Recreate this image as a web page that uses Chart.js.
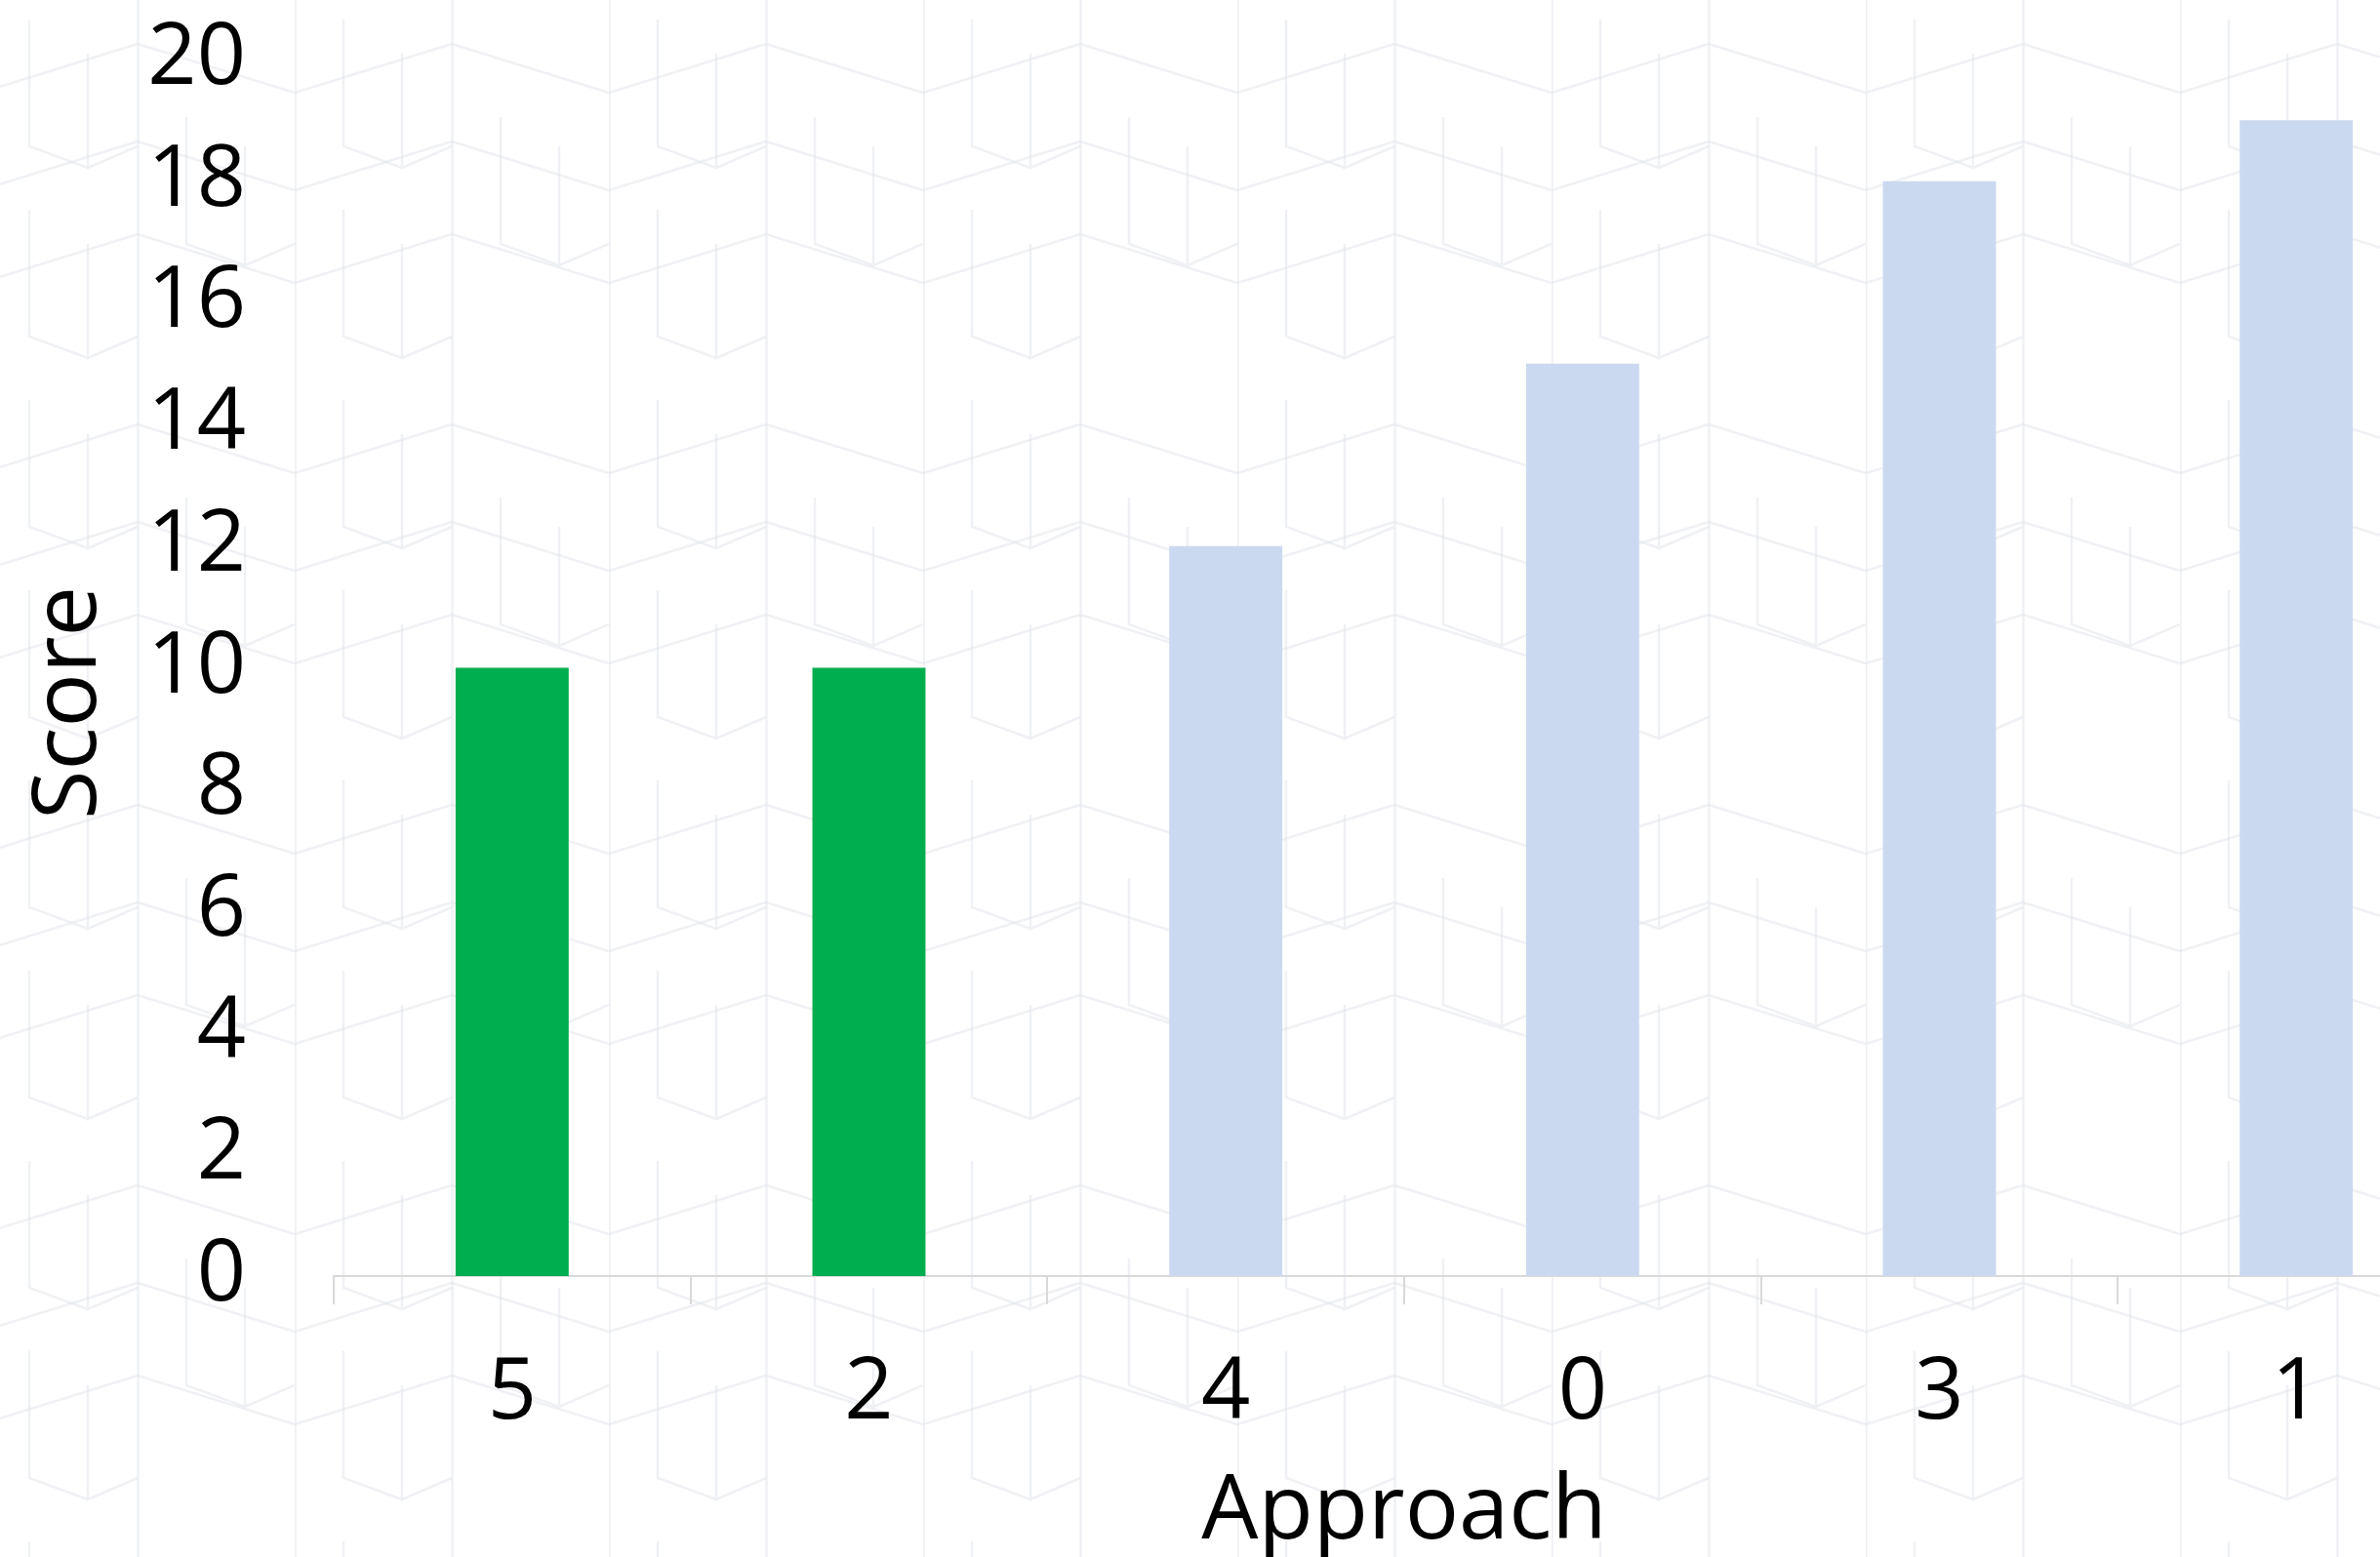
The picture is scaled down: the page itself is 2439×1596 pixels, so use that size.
<!DOCTYPE html>
<html>
<head>
<meta charset="utf-8">
<title>Score by approach</title>
<script src="https://cdn.jsdelivr.net/npm/chart.js@4/dist/chart.umd.min.js"></script>
<style>
  html, body {
    margin: 0;
    padding: 0;
    overflow: hidden;
    background-color: #ffffff;
  }
  body {
    width: 2439px;
    height: 1596px;
    background-image: url("data:image/svg+xml;utf8,<svg xmlns='http://www.w3.org/2000/svg' width='322' height='390'><g fill='none' stroke='%23dfe3ea' stroke-width='2.5' stroke-opacity='0.5'><path d='M0.5 0V390M161.5 0V390'/><path d='M0 95L161 45M0 95L-10 92M161 45L322 95'/><path d='M0 290L161 240L322 290'/><path d='M50 20V150L110 172M110 55V172L161 150'/><path d='M211 120V250L271 272M271 150V272L322 250'/><path d='M50 215V345L110 367M110 250V367L161 345'/><path d='M161 145L322 195M0 195L161 145'/></g></svg>");
    background-repeat: repeat;
    background-position: -20px 0;
  }
  #wrap {
    position: absolute;
    left: 0;
    top: 0;
    width: 2560px;
    height: 1596px;
  }
</style>
</head>
<body>
<div id="wrap"><canvas id="chart"></canvas></div>
<script>
// Data
const approaches = ['5', '2', '4', '0', '3', '1'];
const scores = [10, 10, 12, 15, 18, 19];
const highlighted = [true, true, false, false, false, false];

const greenBar = '#00ae4f';
const blueBar = '#cbd9f0';
const axisGrey = '#d9d9d9';
const fontFamily = '"Open Sans", "Noto Sans", sans-serif';

const barColors = highlighted.map(h => (h ? greenBar : blueBar));

const ctx = document.getElementById('chart').getContext('2d');
new Chart(ctx, {
    type: 'bar',
    data: {
        labels: approaches,
        datasets: [{
            label: 'Score',
            data: scores,
            backgroundColor: barColors,
            borderWidth: 0,
            categoryPercentage: 1,
            barPercentage: 0.317
        }]
    },
    options: {
        responsive: true,
        maintainAspectRatio: false,
        animation: false,
        layout: {
            padding: { left: 0, right: 24, top: 61, bottom: 0 }
        },
        plugins: {
            legend: { display: false },
            tooltip: { enabled: false }
        },
        scales: {
            x: {
                grid: {
                    display: true,
                    drawOnChartArea: false,
                    drawTicks: true,
                    tickLength: 29,
                    color: axisGrey,
                    lineWidth: 2
                },
                border: { display: true, color: axisGrey, width: 2 },
                ticks: {
                    color: '#000000',
                    padding: 39,
                    font: { family: fontFamily, size: 88 }
                },
                title: {
                    display: true,
                    text: 'Approach',
                    color: '#000000',
                    padding: { top: 0, bottom: -10 },
                    font: { family: fontFamily, size: 92 }
                },
                afterFit: scale => { scale.height = 288; }
            },
            y: {
                min: 0,
                max: 20,
                grid: { display: false, drawTicks: false },
                border: { display: false },
                ticks: {
                    stepSize: 2,
                    color: '#000000',
                    padding: 90,
                    font: { family: fontFamily, size: 88 }
                },
                title: {
                    display: true,
                    // trailing spaces push the word down a little, as in the picture
                    text: 'Score   ',
                    color: '#000000',
                    padding: { top: 17, bottom: 0 },
                    font: { family: fontFamily, size: 92 }
                },
                afterFit: scale => {
                    scale.width = 342;
                    // the label padding would otherwise push the plot down
                    scale.paddingTop = 0;
                    scale.paddingBottom = 0;
                }
            }
        }
    }
});
</script>
</body>
</html>
